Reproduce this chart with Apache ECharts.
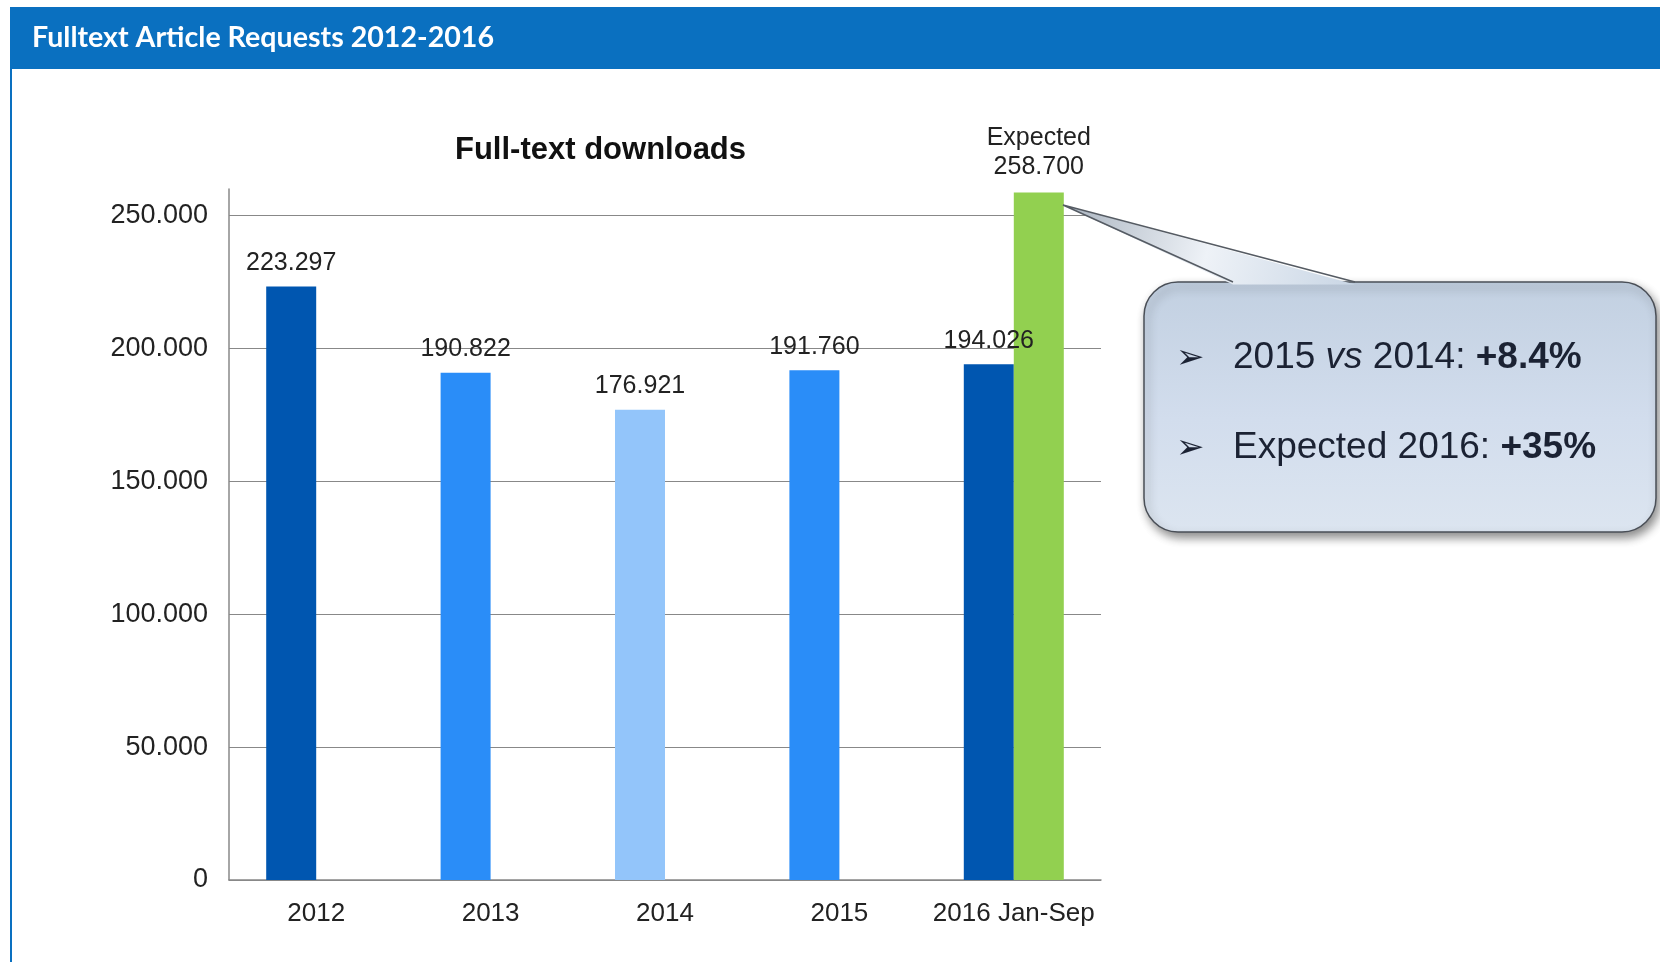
<!DOCTYPE html>
<html><head><meta charset="utf-8">
<script src="https://cdn.jsdelivr.net/npm/echarts@6/dist/echarts.min.js"></script>
<style>html,body{margin:0;padding:0;background:#fff;}#c{width:1660px;height:962px;}</style>
</head><body><div id="c"></div>
<script>
const categories = ['2012', '2013', '2014', '2015', '2016 Jan-Sep'];
const downloads = [223297, 190822, 176921, 191760, 194026];
const expected2016 = [null, null, null, null, 258700];
const yMin = 0, yMax = 260000, yStep = 50000;
const barColors = ['#0056B0', '#2A8DF8', '#93C5FA', '#2A8DF8', '#0056B0'];
const expectedColor = '#92D050';

const fmt = v => String(v).replace(/\B(?=(\d{3})+(?!\d))/g, '.');

const chart = echarts.init(document.getElementById('c'));
chart.setOption({
  animation: false,
  backgroundColor: '#ffffff',
  title: {
    text: 'Full-text downloads', left: 450, top: 130,
    textStyle: { fontFamily: 'Liberation Sans', fontWeight: 'bold', fontSize: 31, color: '#111' }
  },
  grid: { left: 229, right: 559, top: 189, bottom: 82, containLabel: false },
  xAxis: {
    type: 'category', data: categories,
    axisLine: { lineStyle: { color: '#888', width: 1.5 } },
    axisTick: { show: false },
    axisLabel: { interval: 0, margin: 21, fontFamily: 'Liberation Sans', fontSize: 26, color: '#222' }
  },
  yAxis: {
    type: 'value', min: yMin, max: yMax, interval: yStep,
    axisLine: { show: true, lineStyle: { color: '#888', width: 1.5 } },
    axisTick: { show: false },
    splitLine: { show: true, showMaxLine: false, lineStyle: { color: '#888', width: 1.2 } },
    axisLabel: { showMaxLabel: false, margin: 21, fontFamily: 'Liberation Sans', fontSize: 27, color: '#222', formatter: fmt }
  },
  series: [
    {
      type: 'bar', barWidth: 50, barGap: '0%',
      data: downloads.map((v, i) => ({ value: v, itemStyle: { color: barColors[i] } })),
      label: { show: true, position: 'top', distance: 11, fontFamily: 'Liberation Sans', fontSize: 25, color: '#222', formatter: p => fmt(p.value) }
    },
    {
      type: 'bar', barWidth: 50, barGap: '0%',
      itemStyle: { color: expectedColor },
      data: expected2016,
      label: { show: true, position: 'top', distance: 11, fontFamily: 'Liberation Sans', fontSize: 25, lineHeight: 29, color: '#222', formatter: p => 'Expected\n' + fmt(p.value) }
    }
  ],
  graphic: [
    { type: 'rect', z: 100, shape: { x: 11, y: 8, width: 1700, height: 1000 }, style: { fill: 'none', stroke: '#0A70C0', lineWidth: 2 } },
    { type: 'rect', z: 100, shape: { x: 10, y: 8, width: 1700, height: 61 }, style: { fill: '#0A70C0' } },
    { type: 'text', z: 101, x: 32, y: 38, style: { text: 'Fulltext Article Requests 2012-2016', fill: '#fff', font: 'bold 28.6px Lato', verticalAlign: 'middle' } },
    // callout box
    { type: 'rect', z: 100, shape: { x: 1144, y: 282, width: 512, height: 250, r: 34 },
      style: { fill: new echarts.graphic.LinearGradient(0, 0, 0, 1, [{ offset: 0, color: '#c2d0e1' }, { offset: 0.55, color: '#d2dded' }, { offset: 1, color: '#dce5f0' }]),
        stroke: '#4a4f57', lineWidth: 1.5, shadowBlur: 10, shadowColor: 'rgba(0,0,0,0.45)', shadowOffsetX: 3, shadowOffsetY: 5 } },
    { type: 'polygon', z: 101, shape: { points: [[1063, 205], [1233, 284.5], [1355, 284.5]] },
      style: { fill: new echarts.graphic.LinearGradient(0, 0, 1, 1, [{ offset: 0, color: '#a9b3bf' }, { offset: 0.5, color: '#eef2f7' }, { offset: 1, color: '#c9d6e5' }]) } },
    { type: 'polyline', z: 102, shape: { points: [[1233, 282], [1063, 205], [1355, 282]] }, style: { stroke: '#555b63', lineWidth: 1.5, fill: 'none' } },
    { type: 'text', z: 103, x: 1176, y: 359, style: { text: '➢', font: '34px "DejaVu Sans"', fill: '#1b2233', verticalAlign: 'middle' } },
    { type: 'text', z: 103, x: 1233, y: 358, style: { text: '{n|2015 }{i|vs}{n| 2014: }{b|+8.4%}', verticalAlign: 'middle',
        rich: { n: { font: '37px "Liberation Sans"', fill: '#1b2233' }, i: { font: 'italic 37px "Liberation Sans"', fill: '#1b2233' }, b: { font: 'bold 37px "Liberation Sans"', fill: '#1b2233' } } } },
    { type: 'text', z: 103, x: 1176, y: 449, style: { text: '➢', font: '34px "DejaVu Sans"', fill: '#1b2233', verticalAlign: 'middle' } },
    { type: 'text', z: 103, x: 1233, y: 448, style: { text: '{n|Expected 2016: }{b|+35%}', verticalAlign: 'middle',
        rich: { n: { font: '37px "Liberation Sans"', fill: '#1b2233' }, b: { font: 'bold 37px "Liberation Sans"', fill: '#1b2233' } } } }
  ]
});
</script></body></html>
